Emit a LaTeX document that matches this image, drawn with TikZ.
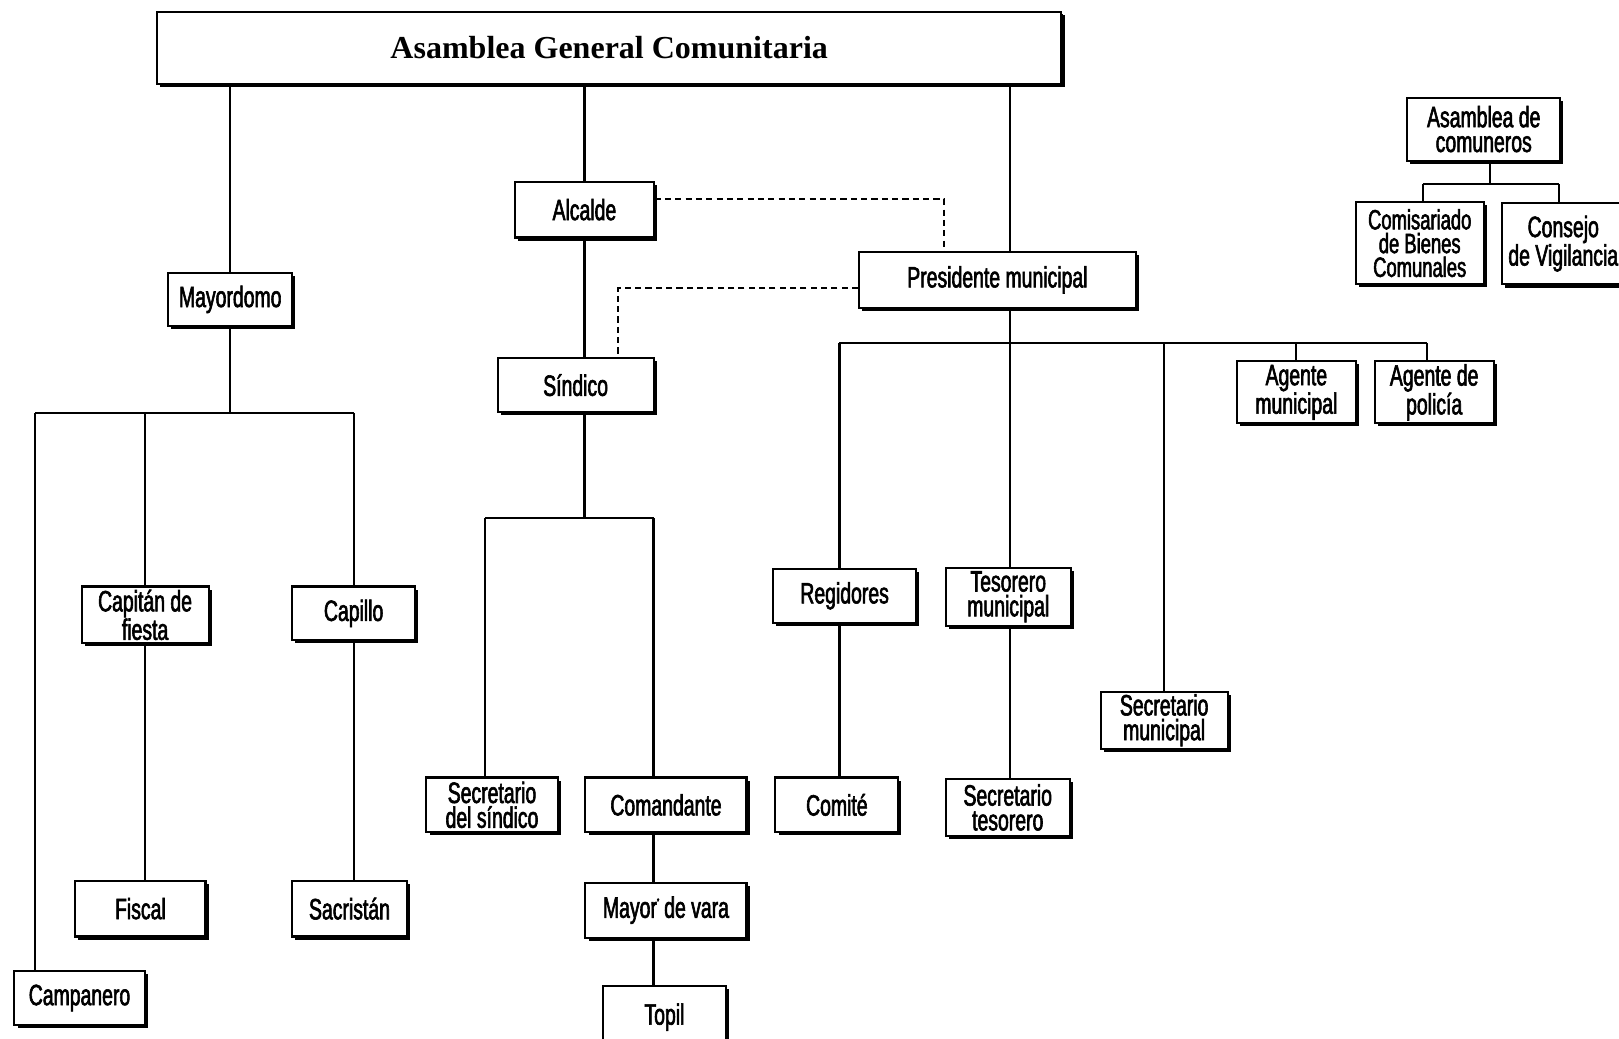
\documentclass[tikz,border=0pt]{standalone}
\usepackage{fontspec}
\newfontfamily\condfont{Liberation Sans}[FakeStretch=0.66,FakeBold=2]
\newfontfamily\titlefont{Liberation Serif}
\usetikzlibrary{shadows}
\begin{document}
\begin{tikzpicture}[x=1pt,y=-1pt,
  box/.style={draw=black, line width=2pt, fill=white, inner sep=0pt, align=center,
    font=\condfont\fontsize{28.5}{24}\selectfont,
    drop shadow={shadow xshift=3pt, shadow yshift=-3pt, fill=black, opacity=1}},
  sz/.style n args={2}{minimum width=#1pt, minimum height=#2pt},
  conn/.style={line width=2.2pt},
  dashconn/.style={line width=2.2pt, dash pattern=on 6pt off 4pt}]
\fill[white] (0,0) rectangle (1568,1006);
\useasboundingbox (0,0) rectangle (1568,1006);

% nodes
\node[box, sz={876}{69}, font=\titlefont\bfseries\fontsize{31}{31}\selectfont,
  drop shadow={shadow xshift=1.5pt, shadow yshift=-1.5pt, fill=black, opacity=1}] (top) at (590,46.5) {Asamblea General Comunitaria};
\node[box, sz={134}{54}] (alcalde) at (566,203) {Alcalde};
\node[box, sz={268}{54}] (pres) at (966,271) {Presidente municipal};
\node[box, sz={151}{52}] (sindico) at (557.5,373) {Síndico};
\node[box, sz={127}{53}] (secsin) at (476.5,779.5) {Secretario\\del síndico};
\node[box, sz={156}{53}] (coman) at (645,779.5) {Comandante};
\node[box, sz={156}{53}] (mayorv) at (645,881.5) {Mayor\raisebox{0.45em}{\fontsize{9}{9}\selectfont*}\,de vara};
\node[box, sz={119}{60}] (topil) at (643.5,985) {Topil};
\node[box, sz={120}{52}] (mayordomo) at (223,290) {Mayordomo};
\node[box, sz={123}{55}] (capitan) at (140.5,595.5) {Capitán de\\fiesta};
\node[box, sz={119}{52}] (capillo) at (342.5,594) {Capillo};
\node[box, sz={126}{54}] (fiscal) at (136,880) {Fiscal};
\node[box, sz={111}{54}] (sacristan) at (338.5,880) {Sacristán};
\node[box, sz={126}{53}] (campanero) at (77,966.5) {Campanero};
\node[box, sz={138}{52}] (regid) at (818,577) {Regidores};
\node[box, sz={121}{56}] (teso) at (976.5,578) {Tesorero\\municipal};
\node[box, sz={119}{53}] (comite) at (810.5,779.5) {Comité};
\node[box, sz={120}{55}] (secteso) at (976,782) {Secretario\\tesorero};
\node[box, sz={123}{55}] (secmun) at (1127.5,697.5) {Secretario\\municipal};
\node[box, sz={115}{60}] (agmun) at (1255.5,380) {Agente\\municipal};
\node[box, sz={115}{60}] (agpol) at (1389,380) {Agente de\\policía};
\node[box, sz={148}{61}] (asamcom) at (1437,125) {Asamblea de\\comuneros};
\node[box, sz={124}{79}, font=\condfont\fontsize{27}{23}\selectfont] (comis) at (1375,235.5) {Comisariado\\de Bienes\\Comunales};
\node[box, sz={118}{79}] (consejo) at (1514,236) {Consejo\\de Vigilancia};

% junction coordinates
\coordinate (mbL) at (34,400);
\coordinate (mbR) at (343,400);
\coordinate (sbL) at (470,502);
\coordinate (sbR) at (633,502);
\coordinate (pb) at (978,332);
\coordinate (pbL) at (813,332);
\coordinate (pbR) at (1382,332);
\coordinate (cb) at (1443,178);
\coordinate (cbL) at (1378,178);
\coordinate (cbR) at (1510,178);

% from top
\draw[conn] (mayordomo.north |- top.south) -- (mayordomo.north);
\draw[conn] (alcalde.north |- top.south) -- (alcalde.north);
\draw[conn] (pb |- top.south) -- (pb |- pres.north);
% mayordomo branch
\draw[conn] (mayordomo.south) -- (mayordomo.south |- mbL);
\draw[conn] (mbL) -- (mbR);
\draw[conn] (mbL) -- (mbL |- campanero.north);
\draw[conn] (capitan.north |- mbL) -- (capitan.north);
\draw[conn] (mbR) -- (mbR |- capillo.north);
\draw[conn] (capitan.south) -- (capitan.south |- fiscal.north);
\draw[conn] (mbR |- capillo.south) -- (mbR |- sacristan.north);
% alcalde / sindico branch
\draw[conn] (alcalde.south) -- (alcalde.south |- sindico.north);
\draw[conn] (alcalde.south |- sindico.south) -- (alcalde.south |- sbL);
\draw[conn] (sbL) -- (sbR);
\draw[conn] (sbL) -- (sbL |- secsin.north);
\draw[conn] (sbR) -- (sbR |- coman.north);
\draw[conn] (sbR |- coman.south) -- (sbR |- mayorv.north);
\draw[conn] (sbR |- mayorv.south) -- (sbR |- topil.north);
% presidente branch
\draw[conn] (pb |- pres.south) -- (pb);
\draw[conn] (pbL) -- (pbR);
\draw[conn] (pbL) -- (pbL |- regid.north);
\draw[conn] (pb) -- (pb |- teso.north);
\draw[conn] (secmun.north |- pb) -- (secmun.north);
\draw[conn] (agmun.north |- pb) -- (agmun.north);
\draw[conn] (pbR) -- (pbR |- agpol.north);
\draw[conn] (pbL |- regid.south) -- (pbL |- comite.north);
\draw[conn] (pb |- teso.south) -- (pb |- secteso.north);
% comuneros
\draw[conn] (cb |- asamcom.south) -- (cb);
\draw[conn] (cbL) -- (cbR);
\draw[conn] (cbL) -- (cbL |- comis.north);
\draw[conn] (cbR) -- (cbR |- consejo.north);
% dashed
\draw[dashconn] ([yshift=10pt]alcalde.east) -| ([xshift=-52pt]pres.north);
\draw[dashconn] ([yshift=-8pt]pres.west) -| ([xshift=41pt]sindico.north);
\end{tikzpicture}
\end{document}
